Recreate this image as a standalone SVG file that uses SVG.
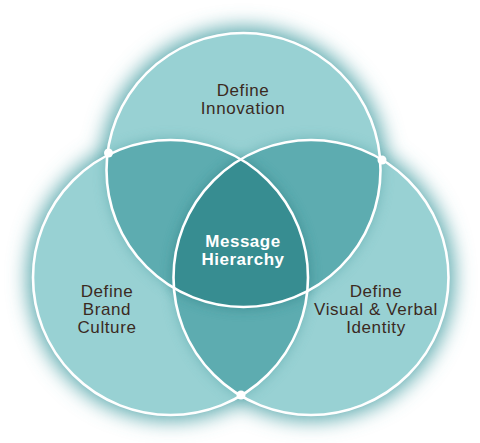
<svg xmlns="http://www.w3.org/2000/svg" width="480" height="443" viewBox="0 0 480 443">
<style>
.lbl{font-family:"Liberation Sans",Arial,sans-serif;font-size:17px;letter-spacing:0.6px;fill:#3b2a1f;text-anchor:middle}
.ctr{font-family:"Liberation Sans",Arial,sans-serif;font-size:17px;letter-spacing:0.5px;font-weight:bold;fill:#ffffff;text-anchor:middle}
.ring{fill:none;stroke:#ffffff;stroke-width:2.6}
.dot{fill:#ffffff}
</style>
<defs>
<filter id="glow" x="-20%" y="-20%" width="140%" height="140%"><feGaussianBlur stdDeviation="10"/></filter>
<filter id="soft" x="-20%" y="-20%" width="140%" height="140%"><feGaussianBlur stdDeviation="7"/></filter>
<clipPath id="cA"><circle cx="243.5" cy="170" r="137"/></clipPath>
<clipPath id="cB"><circle cx="170.5" cy="277.5" r="137.5"/></clipPath>
<clipPath id="cC"><circle cx="311" cy="277.5" r="137.5"/></clipPath>
</defs>
<g id="glow-back" filter="url(#glow)" fill="#5aa9ad">
<circle cx="243.5" cy="170" r="143"/>
<circle cx="170.5" cy="277.5" r="143"/>
<circle cx="311" cy="277.5" r="143"/>
</g>
<g id="base" fill="#98d1d3">
<circle cx="243.5" cy="170" r="137"/>
<circle cx="170.5" cy="277.5" r="137.5"/>
<circle cx="311" cy="277.5" r="137.5"/>
</g>
<g id="pair-shadow" opacity="0.55" filter="url(#soft)" fill="#3f9599">
<g clip-path="url(#cA)"><circle cx="170.5" cy="277.5" r="137.5"/><circle cx="311" cy="277.5" r="137.5"/></g>
<g clip-path="url(#cB)"><circle cx="311" cy="277.5" r="137.5"/></g>
</g>
<g id="pairs" fill="#5dacb0">
<g clip-path="url(#cA)"><circle cx="170.5" cy="277.5" r="137.5"/><circle cx="311" cy="277.5" r="137.5"/></g>
<g clip-path="url(#cB)"><circle cx="311" cy="277.5" r="137.5"/></g>
</g>
<g id="triple-shadow" filter="url(#soft)" opacity="0.8"><g clip-path="url(#cA)"><g clip-path="url(#cB)"><circle cx="311" cy="277.5" r="137.5" fill="#2f8286"/></g></g></g>
<g id="triple"><g clip-path="url(#cA)"><g clip-path="url(#cB)"><circle cx="311" cy="277.5" r="137.5" fill="#378d91"/></g></g></g>
<g id="node-innovation">
<circle class="ring" cx="243.5" cy="170" r="137"/>
<text class="lbl" x="243" y="96">Define</text>
<text class="lbl" x="243" y="114">Innovation</text>
</g>
<g id="node-brand">
<circle class="ring" cx="170.5" cy="277.5" r="137.5"/>
<text class="lbl" x="107" y="297">Define</text>
<text class="lbl" x="107" y="315">Brand</text>
<text class="lbl" x="107" y="333">Culture</text>
</g>
<g id="node-identity">
<circle class="ring" cx="311" cy="277.5" r="137.5"/>
<text class="lbl" x="376" y="297">Define</text>
<text class="lbl" x="376" y="315">Visual &amp; Verbal</text>
<text class="lbl" x="376" y="333">Identity</text>
</g>
<g id="node-message">
<text class="ctr" x="243" y="247">Message</text>
<text class="ctr" x="243" y="265">Hierarchy</text>
</g>
<g id="connectors">
<circle class="dot" cx="108.5" cy="153" r="4.5"/>
<circle class="dot" cx="382" cy="160" r="4.5"/>
<circle class="dot" cx="241" cy="395" r="4.5"/>
</g>
</svg>
